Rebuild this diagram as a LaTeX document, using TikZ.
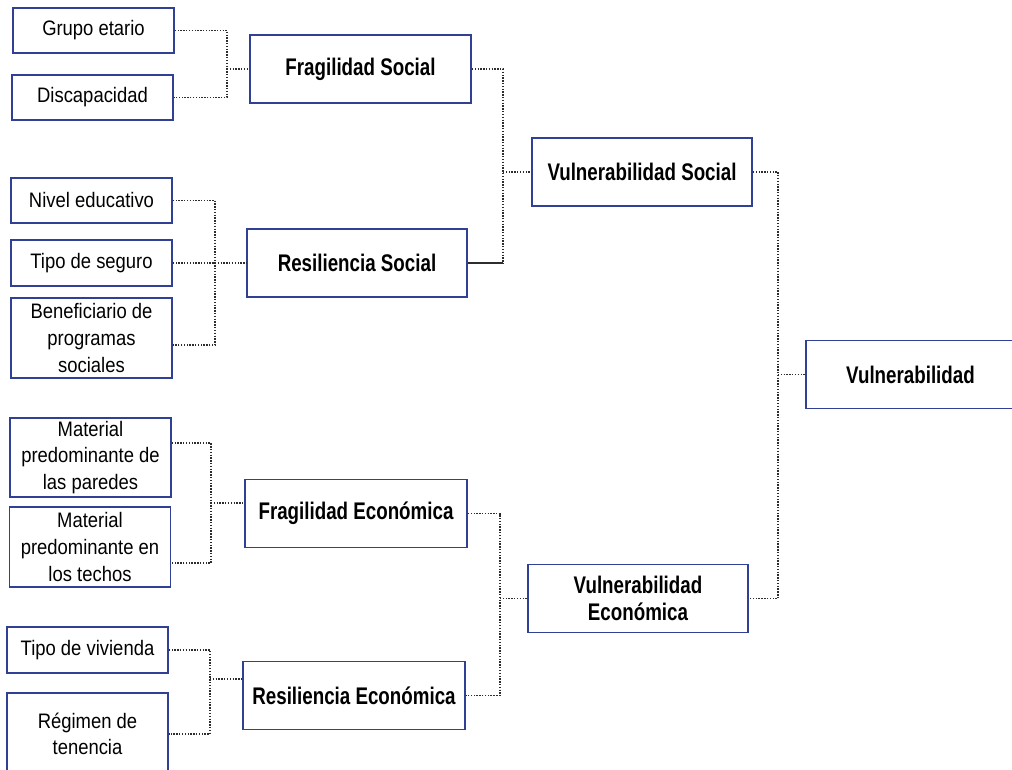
\documentclass[tikz,border=0pt]{standalone}
\usepackage{fontspec}
\setmainfont{Liberation Sans}[FakeStretch=0.88]
\newfontfamily\headfont{Liberation Sans}[FakeStretch=0.78]
\usepackage{xcolor}
\usetikzlibrary{calc}
\definecolor{vulblue}{RGB}{48,64,148}
\definecolor{vulgray}{RGB}{45,45,45}

\begin{document}
\begin{tikzpicture}[
    x=0.025cm, y=-0.025cm,
    leaf/.style={draw=vulblue, line width=1.3pt, fill=white, minimum width=4.02cm, minimum height=1.13cm, align=center, inner sep=1pt, font=\fontsize{14.9}{18.9}\selectfont},
    dim/.style={draw=vulblue, line width=1.3pt, fill=white, minimum width=5.5cm, minimum height=1.7cm, align=center, inner sep=1pt, font=\headfont\bfseries\fontsize{17.1}{18.8}\selectfont},
    link/.style={densely dotted, vulgray, line width=1pt},
    tie/.style={vulgray, line width=1pt},
]
\useasboundingbox (0,0) rectangle (1012,769);
\fill[white] (0,0) rectangle (1012,769);

% Indicators
\node[leaf] (grupo) at (93.5,30.5) {Grupo etario};
\node[leaf] (disca) at (92.5,97.5) {Discapacidad};
\node[leaf] (nivel) at (91.5,200.5) {Nivel educativo};
\node[leaf] (seguro) at (91.5,263) {Tipo de seguro};
\node[leaf, minimum height=2cm] (benef) at (91.5,338) {Beneficiario de\\programas\\sociales};
\node[leaf, minimum height=1.98cm] (paredes) at (90.5,457.5) {Material\\predominante de\\las paredes};
\node[leaf, minimum height=2cm] (techos) at (90,547) {Material\\predominante en\\los techos};
\node[leaf] (vivienda) at (87.5,650) {Tipo de vivienda};
\node[leaf, minimum height=2.05cm] (tenencia) at (87.5,734) {Régimen de\\tenencia};

% Dimensions
\node[dim, minimum width=5.525cm] (fragsoc) at (360.5,69) {Fragilidad Social};
\node[dim] (ressoc) at (357,263) {Resiliencia Social};
\node[dim, minimum width=5.55cm] (fragecon) at (356,513.5) {Fragilidad Económica};
\node[dim, minimum width=5.55cm] (resecon) at (354,695.5) {Resiliencia Económica};
\node[dim] (vulsoc) at (642,172) {Vulnerabilidad Social};
\node[dim] (vulecon) at (638,598.5) {Vulnerabilidad\\Económica};
\node[dim, minimum width=5.225cm] (vul) at (910.5,374.5) {Vulnerabilidad};

% Junctions
\coordinate (jfs) at (227,69);
\coordinate (jrs) at (215,263);
\coordinate (jfe) at (211,503);
\coordinate (jre) at (210,679);
\coordinate (jvs) at (503,172);
\coordinate (jve) at (500,598.5);
\coordinate (jv) at (778,374.5);

% Connectors
\draw[link] (grupo.east) -| (jfs) |- (disca.east);
\draw[link] (jfs) -- (fragsoc.west);
\draw[link] (nivel.east) -| (jrs) |- ([yshift=-0.175cm]benef.east);
\draw[link] (seguro.east) -- (ressoc.west);
\draw[link] ([yshift=0.36cm]paredes.east) -| (jfe) |- ([yshift=-0.4cm]techos.east);
\draw[link] (jfe) -- (jfe -| fragecon.west);
\draw[link] (vivienda.east) -| (jre) |- (tenencia.east);
\draw[link] (jre) -- (jre -| resecon.west);

\draw[link] (fragsoc.east) -| (jvs) -- (jvs |- ressoc.east);
\draw[tie] (jvs |- ressoc.east) -- (ressoc.east);
\draw[link] (jvs) -- (vulsoc.west);
\draw[link] (fragecon.east) -| (jve) |- (resecon.east);
\draw[link] (jve) -- (vulecon.west);

\draw[link] (vulsoc.east) -| (jv) |- (vulecon.east);
\draw[link] (jv) -- (vul.west);

\end{tikzpicture}
\end{document}
